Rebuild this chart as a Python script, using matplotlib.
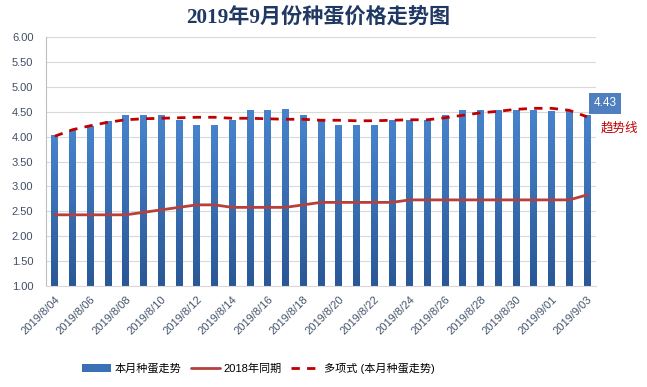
import numpy as np
import matplotlib.pyplot as plt
from matplotlib.colors import LinearSegmentedColormap

plt.rcParams['font.family'] = ['Liberation Sans', 'Noto Sans CJK SC', 'DejaVu Sans']

# data
dates = ["2019/8/04", "2019/8/05", "2019/8/06", "2019/8/07", "2019/8/08", "2019/8/09",
         "2019/8/10", "2019/8/11", "2019/8/12", "2019/8/13", "2019/8/14", "2019/8/15",
         "2019/8/16", "2019/8/17", "2019/8/18", "2019/8/19", "2019/8/20", "2019/8/21",
         "2019/8/22", "2019/8/23", "2019/8/24", "2019/8/25", "2019/8/26", "2019/8/27",
         "2019/8/28", "2019/8/29", "2019/8/30", "2019/8/31", "2019/9/01", "2019/9/02",
         "2019/9/03"]
price_2019 = [4.02, 4.12, 4.20, 4.30, 4.43, 4.43, 4.43, 4.33, 4.23, 4.23, 4.33, 4.52,
              4.52, 4.54, 4.43, 4.33, 4.23, 4.23, 4.23, 4.33, 4.33, 4.33, 4.43, 4.53,
              4.53, 4.53, 4.53, 4.53, 4.51, 4.51, 4.43]
price_2018 = [2.43, 2.43, 2.43, 2.43, 2.43, 2.48, 2.53, 2.58, 2.63, 2.63, 2.58, 2.58,
              2.58, 2.58, 2.63, 2.68, 2.68, 2.68, 2.68, 2.68, 2.73, 2.73, 2.73, 2.73,
              2.73, 2.73, 2.73, 2.73, 2.73, 2.73, 2.83]
trend = [4.01, 4.14, 4.22, 4.29, 4.34, 4.36, 4.37, 4.38, 4.39, 4.39, 4.37, 4.37,
         4.36, 4.35, 4.35, 4.33, 4.33, 4.32, 4.32, 4.33, 4.34, 4.34, 4.38, 4.43,
         4.48, 4.51, 4.55, 4.57, 4.57, 4.53, 4.40]
yticks = [1.0, 1.5, 2.0, 2.5, 3.0, 3.5, 4.0, 4.5, 5.0, 5.5, 6.0]

x = np.arange(len(dates))
bar_w = 0.38
ymin, ymax = 1.0, 6.0

fig = plt.figure(figsize=(6.47, 3.87), dpi=100)
ax = fig.add_axes([0.071, 0.261, 0.850, 0.643])

bars = ax.bar(x, price_2019, width=bar_w, color="#3A70B5", zorder=2,
              label="本月种蛋走势")

# vertical gradient inside each bar (lighter on top)
grad_cmap = LinearSegmentedColormap.from_list("g", ["#2A5896", "#4783CC"])
grad = np.linspace(0, 1, 100).reshape(-1, 1)
for xi, v in zip(x, price_2019):
    ax.imshow(grad, extent=[xi - bar_w / 2, xi + bar_w / 2, ymin, v],
              origin="lower", aspect="auto", cmap=grad_cmap, zorder=2.1)

ax.plot(x, price_2018, color="#B5403C", lw=2.0, solid_joinstyle="round",
        solid_capstyle="round", zorder=3, label="2018年同期")
ax.plot(x, trend, color="#C00000", lw=2.0, linestyle=(0, (3, 2.6)), zorder=4,
        label="多项式 (本月种蛋走势)")

ax.set_xlim(-0.5, len(dates) - 0.5)
ax.set_ylim(ymin, ymax)
ax.set_yticks(yticks)
ax.set_yticklabels([f"{t:.2f}" for t in yticks], color="#404E65", fontsize=8)
ax.set_xticks(x[::2])
ax.set_xticklabels(dates[::2], rotation=45, ha="right", rotation_mode="anchor",
                   color="#44546A", fontsize=8)
ax.tick_params(axis="both", length=0)
ax.tick_params(axis="y", pad=9)
ax.tick_params(axis="x", pad=6)

ax.grid(axis="y", color="#D9D9D9", lw=0.8, zorder=0)
ax.set_axisbelow(True)
for s in ["top", "right"]:
    ax.spines[s].set_visible(False)
ax.spines["left"].set_color("#BFBFBF")
ax.spines["bottom"].set_color("#D9D9D9")

fig.text(0.492, 0.953, "2019年9月份种蛋价格走势图", ha="center", va="center",
         fontsize=15.2, fontweight="bold", color="#203864",
         family=["Liberation Serif", "Noto Sans CJK SC"])

# last value box and trend label
ax.text(len(dates) - 0.0, 4.67, f"{price_2019[-1]:.2f}", ha="center", va="center",
        color="white", fontsize=8.5,
        bbox=dict(boxstyle="square,pad=0.4", fc="#4F7FBF", ec="none"),
        clip_on=False)
ax.text(len(dates) + 0.85, 4.17, "趋势线", ha="center", va="center",
        color="#C00000", fontsize=9, clip_on=False)

leg = fig.legend(handles=[bars, ax.lines[0], ax.lines[1]],
                 loc="center", bbox_to_anchor=(0.399, 0.049), ncol=3, frameon=False,
                 fontsize=8, handlelength=2.6, handleheight=0.7, columnspacing=0.9,
                 handletextpad=0.3)

plt.savefig("out.png", dpi=100)
